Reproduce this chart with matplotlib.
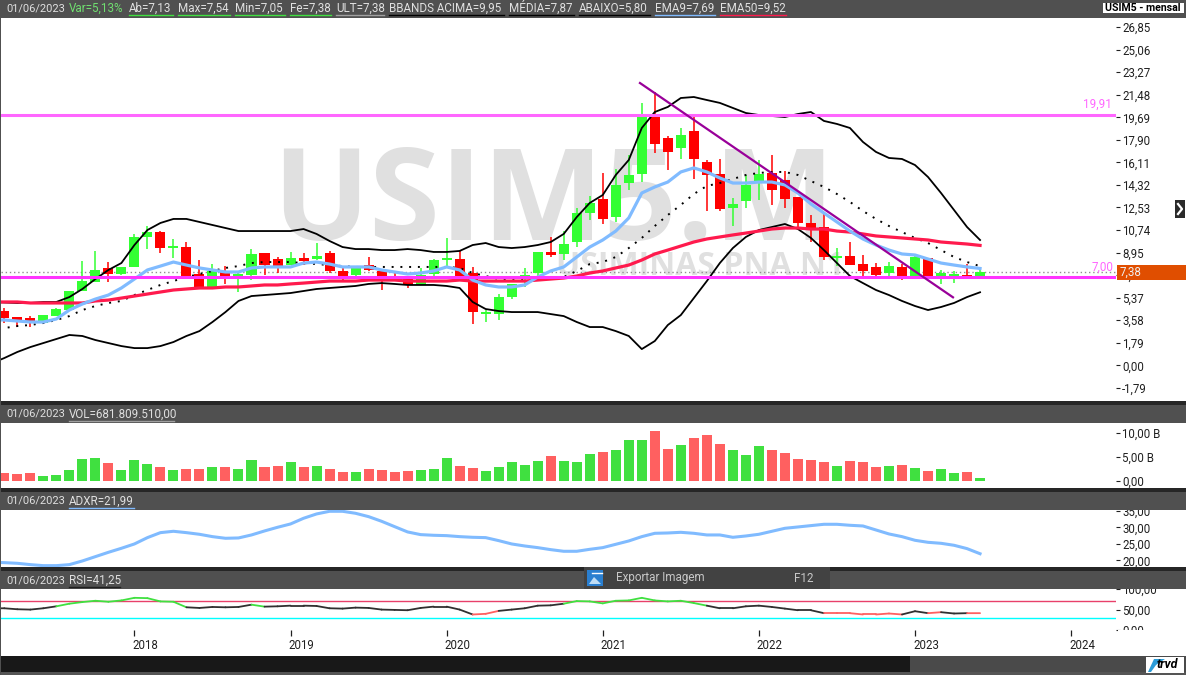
import matplotlib
matplotlib.use('Agg')
import matplotlib.pyplot as plt
from matplotlib.patches import Rectangle, Polygon
from matplotlib.lines import Line2D
from matplotlib.transforms import ScaledTranslation
import numpy as np

W, H = 1186, 675
plt.rcParams['font.family'] = ['Roboto', 'DejaVu Sans']

# monthly candles, Mar 2017 .. Jun 2023
opens = [4.31, 3.83, 3.76, 3.36, 3.91, 4.39, 5.90, 6.61, 7.73, 7.25,
         7.81, 10.19, 10.58, 9.35, 9.39, 7.25, 6.22, 7.49, 7.13, 7.17,
         8.92, 8.44, 7.96, 8.52, 8.44, 8.92, 7.49, 7.17, 7.96, 7.49,
         7.09, 7.09, 6.38, 7.25, 8.40, 8.44, 7.33, 4.11, 4.07, 5.42,
         7.01, 7.33, 9.00, 8.84, 9.79, 12.09, 13.20, 11.77, 14.47, 15.19,
         19.79, 18.05, 17.25, 18.60, 16.14, 15.19, 12.49, 13.05, 14.63, 15.27,
         14.71, 13.36, 11.30, 10.98, 8.52, 8.68, 8.04, 7.81, 7.33, 7.81,
         7.09, 8.52, 7.09, 7.09, 7.17, 7.13]
closes = [3.76, 3.44, 3.44, 3.99, 4.47, 5.90, 6.69, 7.57, 7.25, 7.81,
          10.19, 10.58, 9.31, 9.39, 7.09, 6.22, 7.49, 7.09, 7.17, 8.84,
          7.96, 7.88, 8.52, 8.28, 8.68, 7.49, 7.09, 7.81, 7.57, 6.93,
          6.93, 6.38, 7.17, 8.36, 8.44, 7.09, 4.23, 4.15, 5.42, 6.46,
          7.17, 9.00, 8.76, 9.63, 12.09, 12.89, 11.62, 14.32, 15.11, 19.79,
          17.57, 16.94, 18.29, 16.38, 15.11, 12.41, 12.81, 14.32, 15.19, 13.92,
          13.20, 11.30, 10.74, 8.60, 8.68, 7.96, 7.49, 7.17, 7.88, 7.09,
          8.60, 6.85, 7.33, 7.25, 7.09, 7.38]
highs = [4.55, 3.83, 3.91, 3.99, 4.55, 5.90, 8.28, 9.08, 8.20, 7.81,
         10.43, 11.06, 10.66, 10.03, 9.79, 8.36, 8.04, 7.88, 7.49, 9.23,
         8.92, 8.60, 9.00, 8.92, 9.71, 9.08, 7.73, 7.88, 8.60, 7.65,
         7.41, 7.09, 7.73, 8.44, 10.11, 9.08, 7.81, 4.39, 5.66, 6.46,
         7.73, 9.00, 10.19, 10.66, 12.49, 13.44, 15.27, 15.59, 16.70, 20.83,
         21.70, 18.21, 18.84, 19.87, 16.30, 16.38, 13.28, 15.11, 16.30, 16.70,
         15.43, 13.36, 11.93, 12.01, 9.31, 9.79, 8.76, 8.12, 8.20, 8.04,
         8.76, 8.52, 7.57, 7.49, 8.04, 7.54]
lows = [3.36, 3.04, 3.04, 3.36, 3.91, 4.39, 5.90, 6.61, 6.61, 7.17,
        7.81, 9.23, 8.92, 8.52, 7.09, 6.22, 6.22, 6.46, 5.82, 6.77,
        7.17, 7.33, 7.96, 7.96, 8.36, 7.33, 6.77, 7.09, 7.49, 5.98,
        6.77, 6.14, 6.38, 7.09, 7.73, 7.09, 3.28, 3.44, 3.60, 5.26,
        6.22, 7.01, 8.60, 8.36, 9.39, 11.54, 11.22, 11.38, 13.92, 14.55,
        16.86, 15.51, 16.38, 14.79, 12.25, 12.25, 11.06, 12.49, 13.12, 12.73,
        12.49, 10.98, 9.79, 8.36, 7.88, 7.96, 7.09, 7.09, 7.09, 6.77,
        7.01, 6.85, 6.46, 6.53, 7.01, 7.05]

# indicator lines start one month earlier, at the left edge of the panel
bb_upper = [5.03, 4.99, 4.95, 4.95, 5.03, 5.03, 5.42, 6.06, 6.85, 7.57, 8.12,
            9.55, 10.74, 11.30, 11.62, 11.62, 11.38, 11.14, 10.90, 10.66, 10.66,
            10.66, 10.66, 10.66, 10.82, 10.43, 9.87, 9.39, 9.23, 9.23, 9.15,
            9.15, 9.23, 9.15, 9.00, 9.00, 9.08, 9.55, 9.71, 9.39, 9.31,
            9.39, 9.55, 9.79, 10.43, 11.77, 12.89, 13.52, 15.11, 16.30, 18.84,
            20.11, 20.51, 21.22, 21.30, 21.06, 20.83, 20.43, 20.03, 19.87, 19.79,
            19.71, 19.95, 20.11, 19.40, 19.16, 18.84, 17.73, 16.94, 16.46, 16.38,
            15.90, 14.95, 13.68, 12.33, 10.98, 9.95]
bb_lower = [0.15, 0.58, 1.06, 1.45, 1.77, 2.09, 2.41, 2.33, 2.01, 1.77, 1.53,
            1.37, 1.37, 1.53, 1.85, 2.33, 2.72, 3.44, 4.23, 5.11, 5.50,
            5.58, 5.66, 5.74, 5.90, 6.06, 6.14, 6.22, 6.30, 6.46, 6.53,
            6.46, 6.38, 6.38, 6.38, 6.30, 6.14, 5.03, 4.47, 4.31, 4.23,
            4.23, 4.23, 4.07, 3.91, 3.44, 3.04, 3.04, 2.72, 2.33, 1.29,
            1.93, 3.20, 3.99, 5.34, 6.69, 8.12, 9.31, 10.19, 10.74, 10.98,
            11.22, 10.82, 10.11, 9.15, 8.12, 7.09, 6.53, 5.98, 5.58, 5.11,
            4.71, 4.39, 4.63, 4.95, 5.42, 5.80]
bb_mid = [2.85, 2.96, 3.12, 3.20, 3.36, 3.60, 3.91, 4.39, 4.71, 4.95, 5.11,
          5.58, 5.98, 6.38, 6.69, 7.01, 7.25, 7.49, 7.73, 7.88, 8.12,
          8.20, 8.20, 8.20, 8.12, 8.04, 7.96, 7.88, 7.81, 7.81, 7.81,
          7.81, 7.81, 7.81, 7.81, 7.81, 7.73, 7.33, 7.09, 6.85, 6.77,
          6.77, 6.85, 6.93, 7.01, 7.49, 8.04, 8.20, 8.60, 9.31, 10.11,
          11.06, 11.93, 12.73, 13.60, 14.24, 14.47, 14.79, 15.11, 15.27, 15.35,
          15.35, 15.11, 14.63, 14.16, 13.60, 12.97, 12.25, 11.62, 11.06, 10.58,
          10.11, 9.71, 9.15, 8.60, 8.20, 7.87]
ema9 = [3.62, 3.60, 3.52, 3.44, 3.44, 3.68, 4.39, 4.87, 5.26, 5.58, 6.14,
        6.85, 7.57, 7.88, 8.20, 7.96, 7.73, 7.57, 7.41, 7.41, 7.73,
        7.81, 7.81, 7.81, 8.12, 8.20, 8.04, 7.81, 7.81, 7.81, 7.57,
        7.41, 7.25, 7.33, 7.49, 7.81, 7.57, 6.77, 6.38, 6.22, 6.22,
        6.38, 7.01, 7.49, 7.81, 8.60, 9.39, 9.95, 10.66, 11.70, 13.68,
        14.16, 14.55, 15.35, 15.67, 15.35, 14.87, 14.47, 14.47, 14.55, 14.55,
        14.32, 13.68, 12.81, 12.09, 11.38, 10.66, 10.03, 9.55, 9.15, 8.84,
        8.76, 8.44, 8.12, 7.96, 7.81, 7.69]
ema50 = [5.03, 5.03, 5.03, 4.95, 4.95, 4.95, 4.95, 4.95, 5.11, 5.18, 5.34,
         5.50, 5.66, 5.82, 5.98, 6.06, 6.14, 6.14, 6.22, 6.22, 6.30,
         6.38, 6.38, 6.46, 6.53, 6.61, 6.69, 6.69, 6.69, 6.77, 6.77,
         6.77, 6.69, 6.69, 6.69, 6.69, 6.77, 6.69, 6.69, 6.69, 6.69,
         6.69, 6.77, 6.85, 6.93, 7.09, 7.33, 7.49, 7.73, 7.96, 8.36,
         8.84, 9.15, 9.47, 9.79, 10.03, 10.19, 10.35, 10.50, 10.66, 10.82,
         10.90, 10.90, 10.82, 10.82, 10.66, 10.58, 10.43, 10.27, 10.19, 10.11,
         10.03, 9.95, 9.79, 9.71, 9.63, 9.52]

volume = [1.67, 1.46, 1.67, 1.04, 1.25, 2.29, 4.58, 4.79, 3.75, 2.29,
          4.38, 3.54, 2.92, 2.29, 2.50, 2.50, 2.92, 2.92, 2.50, 4.38,
          2.92, 3.13, 3.96, 2.92, 3.13, 2.50, 1.88, 1.88, 2.50, 2.29,
          1.88, 2.08, 2.29, 2.50, 4.79, 3.13, 2.71, 2.08, 2.92, 3.96,
          3.33, 4.17, 5.21, 4.17, 3.96, 5.63, 6.04, 6.46, 8.54, 8.54,
          10.42, 6.67, 7.50, 8.96, 9.58, 7.71, 6.46, 5.42, 7.29, 6.46,
          5.83, 4.58, 4.38, 3.96, 3.13, 4.17, 3.96, 2.92, 3.13, 3.33,
          2.71, 2.08, 2.50, 1.67, 1.88, 0.68]
vol_state = ('rrr' 'ggggg' 'r' 'ggg' 'r' 'g' 'rr' 'g' 'r' 'gg' 'rr' 'g' 'r' 'g' 'rr' 'g'
             'rrrr' 'ggg' 'rr' 'ggggg' 'r' 'ggg' 'r' 'ggg' 'rr' 'g' 'rrr' 'ggg' 'rrrrr'
             'g' 'rrr' 'g' 'r' 'g' 'r' 'gg' 'r' 'g')

adxr = [19.40, 19.29, 19.09, 18.69, 18.38, 18.38, 18.69, 19.80, 21.11, 22.42, 23.64,
        24.95, 26.87, 28.38, 28.79, 28.38, 27.88, 27.17, 26.67, 26.77, 27.68,
        28.89, 30.00, 31.01, 32.73, 34.04, 34.85, 34.85, 34.24, 33.23, 31.82,
        30.20, 28.59, 27.78, 27.58, 27.47, 27.17, 26.97, 26.87, 25.96, 24.95,
        24.34, 23.84, 23.23, 22.73, 22.73, 23.33, 23.84, 24.85, 25.86, 27.17,
        28.18, 28.28, 28.48, 28.18, 27.68, 27.68, 26.97, 27.37, 27.88, 28.79,
        29.70, 30.10, 30.51, 30.91, 30.91, 30.61, 30.40, 29.19, 27.98, 27.17,
        26.06, 25.45, 25.15, 24.55, 23.54, 21.99]

rsi = [53.0, 53.2, 50.8, 50.0, 53.2, 58.0, 64.4, 68.4, 71.6, 69.2, 72.4,
       78.8, 78.0, 70.0, 69.2, 55.6, 54.0, 56.4, 55.6, 56.4, 62.0,
       57.2, 58.0, 59.6, 59.6, 58.8, 53.2, 52.4, 54.8, 54.0, 50.0,
       49.2, 48.4, 54.0, 57.2, 57.2, 50.0, 38.0, 39.6, 46.8, 50.0,
       53.2, 59.6, 60.4, 64.4, 70.8, 70.0, 65.2, 71.6, 72.4, 78.8,
       72.4, 70.0, 71.6, 66.0, 59.6, 53.2, 53.2, 58.0, 59.6, 56.4,
       52.4, 48.4, 48.4, 41.2, 41.2, 41.2, 38.0, 38.0, 40.4, 38.0,
       46.0, 41.2, 43.6, 40.4, 41.2, 41.25]
rsi_state = ('k' 'kkkkk' 'gggggggggg' 'kkkkk' 'g' 'kkkkkkkkkkkkkkkk' 'rr' 'kkkkk'
             'ggggggggggg' 'kkkkkkkkk' 'rrrrrr' 'kk' 'r' 'kk' 'r')

main_ticks = [26.85, 25.06, 23.27, 21.48, 19.69, 17.90, 16.11, 14.32, 12.53,
              10.74, 8.95, 7.16, 5.37, 3.58, 1.79, 0.00, -1.79]
main_labels = ['26,85', '25,06', '23,27', '21,48', '19,69', '17,90', '16,11', '14,32', '12,53',
               '10,74', '8,95', '7,16', '5,37', '3,58', '1,79', '0,00', '-1,79']
vol_ticks = [10, 5, 0]
vol_labels = ['10,00 B', '5,00 B', '0,00']
adx_ticks = [35, 30, 25, 20]
adx_labels = ['35,00', '30,00', '25,00', '20,00']
rsi_ticks = [100, 50, 0]
rsi_labels = ['100,00', '50,00', '0,00']
year_pos = [10, 22, 34, 46, 58, 70, 82]
year_labels = ['2018', '2019', '2020', '2021', '2022', '2023', '2024']

# support levels and the drawn trend line
levels = [19.91, 7.00]
trend_x = [48.86, 72.92]
trend_y = [22.41, 5.40]
last_price = 7.38

months = np.arange(len(closes))
line_months = np.arange(-1, len(closes))
xlim = (-0.254, 85.45)

TXT = '#202020'
BAR = '#505050'
DARK = '#262626'
UP = '#33FF33'
DOWN = '#FF0000'


def fx(x):
    return x / W


def fy(y):
    return 1 - y / H


def panel(top, bottom):
    a = fig.add_axes([fx(1), fy(bottom), fx(1115), (bottom - top) / H])
    a.set_xlim(xlim)
    for s in a.spines.values():
        s.set_visible(False)
    a.set_xticks([])
    a.yaxis.tick_right()
    a.tick_params(axis='y', length=3, width=0.8, pad=1.5, labelsize=8.3, colors=TXT)
    return a


def box(x0, y0, x1, y1, col, z=5):
    fig.add_artist(Rectangle((fx(x0), fy(y1)), (x1 - x0) / W, (y1 - y0) / H,
                             transform=fig.transFigure, fc=col, ec='none', zorder=z))


def label(x, y, s, col='#E0E0E0', under=None, right=None, **kw):
    t = fig.text(fx(x), fy(y), s, color=col, fontsize=kw.pop('size', 8.4),
                 va='center', zorder=7, **kw)
    if under:
        fig.add_artist(Line2D([fx(x), fx(right)], [fy(15), fy(15)], color=under,
                              lw=1, transform=fig.transFigure, zorder=7))
    return t


fig = plt.figure(figsize=(W / 100, H / 100), dpi=100, facecolor='white')

# main price panel
ax = panel(18, 401)
ax.set_ylim(-2.83, 27.57)
ax.set_yticks(main_ticks, main_labels)

ax.text(fx(272), fy(240), 'USIM5.M', transform=fig.transFigure, fontsize=92.5, fontweight='bold',
        family='Open Sans', color='#E0E0E0', va='baseline', zorder=0.5)
ax.text(fx(556), fy(275), 'USIMINAS PNA N1', transform=fig.transFigure, fontsize=23, fontweight='bold',
        family='Open Sans', color='#E0E0E0', va='baseline', zorder=0.5)

cols = [UP if c >= o else DOWN for o, c in zip(opens, closes)]
ax.vlines(months, lows, highs, colors=cols, lw=1.1, zorder=2)
body_low = np.minimum(opens, closes)
body_h = np.maximum(np.abs(np.array(closes) - np.array(opens)), 0.12)
ax.bar(months, body_h, bottom=body_low, width=0.77, color=cols, zorder=2)

ax.axhline(last_price, color='#909090', lw=1, ls=(0, (1, 2)), zorder=1.5)
ax.plot(line_months, bb_mid, color='black', lw=1.4, ls=(0, (1, 3.5)), zorder=3)
ax.plot(line_months, bb_upper, color='black', lw=1.3, zorder=3)
ax.plot(line_months, bb_lower, color='black', lw=1.3, zorder=3)
ax.plot(line_months, ema50, color='#FF1A4D', lw=2.3, zorder=3.2)
ax.plot(line_months, ema9, color='#80BBFF', lw=2.3, zorder=3.4)
ax.axhline(levels[0], color='#FF66FF', lw=2.2, zorder=3.6)
ax.axhline(levels[1], color='#FF33FF', lw=2.2, zorder=3.6)
ax.plot(trend_x, trend_y, color='#990099', lw=1.6, zorder=3.8)

# volume
ax_vol = panel(423, 488)
ax_vol.set_ylim(-1.46, 12.08)
ax_vol.set_yticks(vol_ticks, vol_labels)
ax_vol.bar(months, volume, width=0.77, color=['#40E040' if v == 'g' else '#FF6060' for v in vol_state])

# ADXR
ax_adx = panel(510, 567)
ax_adx.set_ylim(17.97, 35.24)
ax_adx.set_yticks(adx_ticks, adx_labels)
ax_adx.plot(line_months, adxr, color='#80BBFF', lw=2.2)

# RSI, line colour follows the state of each stretch
ax_rsi = panel(589, 630)
ax_rsi.set_ylim(2.0, 100.4)
ax_rsi.set_yticks(rsi_ticks, rsi_labels)
ax_rsi.axhline(70, color='#E8406A', lw=1)
ax_rsi.axhline(30, color='#00FFFF', lw=1)
state_col = {'k': '#303030', 'g': '#40E040', 'r': '#FF6060'}
for i in range(1, len(rsi)):
    ax_rsi.plot(line_months[i - 1:i + 1], rsi[i - 1:i + 1], color=state_col[rsi_state[i]], lw=1.3,
                solid_capstyle='round')
ax_rsi.set_xticks(year_pos, year_labels)
ax_rsi.tick_params(axis='x', length=4.5, width=0.9, pad=2, labelsize=8.3, colors=TXT)
shift = ScaledTranslation(-2 / 100, 0, fig.dpi_scale_trans)
for t in ax_rsi.get_xticklabels():
    t.set_ha('left')
    t.set_transform(t.get_transform() + shift)

# frame pieces around the panels
box(0, 0, W, 18, BAR)
box(0, 401, W, 405, DARK)
box(0, 405, W, 423, BAR)
box(0, 488, W, 492, DARK)
box(0, 492, W, 510, BAR)
box(0, 567, W, 571, DARK)
box(0, 571, W, 589, BAR)
box(1118, 630, W, 655, 'white')
box(0, 656, W, 672, '#181818')
box(910, 656, W, 672, '#4A4A4A')
box(0, 672, W, H, '#555555')
box(0, 0, 1, H, '#505050', z=6)

# header of the price panel
label(6, 8, '01/06/2023', size=7.9)
label(69, 8, 'Var=5,13%', col='#70E070')
label(129, 8, 'Ab=7,13', under='#40E040', right=173)
label(178, 8, 'Max=7,54', under='#40E040', right=230)
label(235, 8, 'Min=7,05', under='#40E040', right=285)
label(290, 8, 'Fe=7,38', under='#40E040', right=331)
label(336, 8, 'ULT=7,38', under='#A0A0A0', right=384)
label(389, 8, 'BBANDS ACIMA=9,95', under='black', right=504)
label(509, 8, 'MÉDIA=7,87', under='black', right=574)
label(579, 8, 'ABAIXO=5,80', under='black', right=650)
label(655, 8, 'EMA9=7,69', under='#80BBFF', right=715)
label(720, 8, 'EMA50=9,52', under='#FF1A4D', right=786)
box(1103, 3, 1184, 13, 'white', z=6)
label(1105, 8, 'USIM5 - mensal', col='black', size=7.6, fontweight='bold')

# sub panel headers
for y, s, right, col in [(414, 'VOL=681.809.510,00', 174, '#A0A0A0'),
                         (501, 'ADXR=21,99', 134, '#80BBFF'),
                         (580, 'RSI=41,25', 120, '#202020')]:
    label(6, y, '01/06/2023', size=7.9)
    label(69, y, s)
    fig.add_artist(Line2D([fx(69), fx(right)], [fy(y + 7), fy(y + 7)], color=col, lw=1,
                          transform=fig.transFigure, zorder=7))

# level labels and last price flag
label(1112, 104, '19,91', col='#FF66FF', ha='right')
label(1113, 267, '7,00', col='#FF66FF', ha='right')
box(1117, 265, W, 280, '#E04E00', z=6)
label(1120, 272.5, '7,38', col='#F0F0F0')

# collapse arrow on the right edge
box(1175, 200, 1185, 218, '#2A2A2A', z=6)
fig.add_artist(Line2D([fx(1178), fx(1182), fx(1178)], [fy(204), fy(209), fy(214)], color='white',
                      lw=1.6, transform=fig.transFigure, zorder=7))

# export popup over the RSI header
box(584, 567, 830, 589, '#424242', z=6)
box(587, 570, 603, 586, '#2A7FD0', z=6.5)
fig.add_artist(Polygon([(fx(589), fy(584)), (fx(594), fy(577)), (fx(598), fy(581)), (fx(601), fy(584))],
                       closed=True, fc='#BFDDF5', ec='none', transform=fig.transFigure, zorder=7))
fig.add_artist(Line2D([fx(592), fx(602)], [fy(573), fy(573)], color='white', lw=1,
                      transform=fig.transFigure, zorder=7))
label(616, 578, 'Exportar Imagem', col='#C8C8C8')
label(794, 578, 'F12', col='#C8C8C8')

# trvd logo
box(1146, 657, 1184, 673, 'white', z=6)
fig.add_artist(Polygon([(fx(1148), fy(672)), (fx(1154), fy(659)), (fx(1165), fy(659)), (fx(1156), fy(665)), (fx(1151), fy(672))],
                       closed=True, fc='#2A9BD8', ec='none', transform=fig.transFigure, zorder=7))
label(1157, 665, 'trvd', col='black', size=9, fontweight='bold', fontstyle='italic')

fig.savefig('out.png', dpi=100, facecolor='white')
